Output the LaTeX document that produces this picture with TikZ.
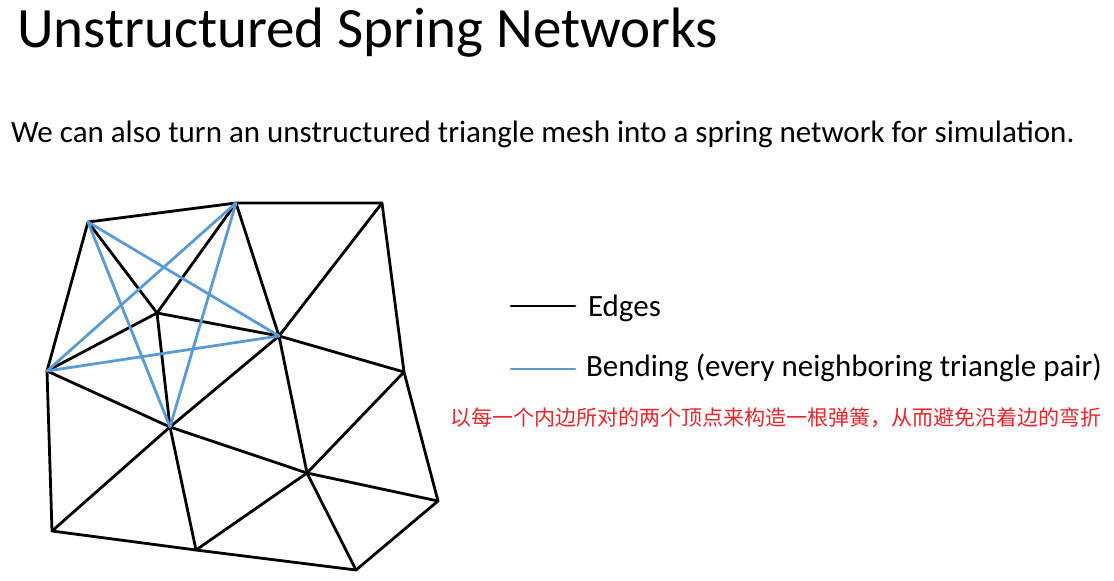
\documentclass[tikz,border=0pt]{standalone}
\usepackage{fontspec}
\setmainfont{Carlito}
\newfontfamily\cjkfont{Noto Sans CJK SC}
\usetikzlibrary{positioning}
\definecolor{bendblue}{RGB}{91,155,213}
\definecolor{noteRed}{RGB}{232,38,45}
\tikzset{
  meshedge/.style={black, line width=2.8pt, line cap=round, line join=round},
  bendedge/.style={bendblue, line width=2.8pt, line cap=round},
  textlabel/.style={anchor=base west, inner sep=0pt, outer sep=0pt}
}

\begin{document}
\begin{tikzpicture}[x=1pt, y=-1pt]
    \useasboundingbox (0,0) rectangle (1114,581);
    % titles
    \node[textlabel, font=\fontsize{57}{64}\selectfont] (title) at (17,47) {Unstructured Spring Networks};
    \node[textlabel, font=\fontsize{31}{36}\selectfont] (intro) at (11,142) {We can also turn an unstructured triangle mesh into a spring network for simulation.};
    % mesh vertices
    \coordinate (tl) at (88,222);
    \coordinate (tm) at (236,203);
    \coordinate (tr) at (382,203);
    \coordinate (cin) at (157,313);
    \coordinate (cr) at (279,336);
    \coordinate (ml) at (47,371);
    \coordinate (mr) at (404,372);
    \coordinate (lo) at (170,427);
    \coordinate (lr) at (307,473);
    \coordinate (rr) at (438,501);
    \coordinate (bl) at (52,531);
    \coordinate (bm) at (196,550);
    \coordinate (br) at (356,570);
    % edges
    \draw[meshedge] (tl) -- (tm) -- (tr) -- (mr) -- (rr) -- (br) -- (bm) -- (bl) -- (ml) -- (tl);
    \draw[meshedge] (tl) -- (cin) -- (tm) -- (cr) -- (tr);
    \draw[meshedge] (ml) -- (cin) -- (cr) -- (mr) -- (lr) -- (cr) -- (lo) -- (cin);
    \draw[meshedge] (ml) -- (lo) -- (lr) -- (rr);
    \draw[meshedge] (bl) -- (lo) -- (bm) -- (lr) -- (br);
    % bending springs
    \draw[bendedge] (tl) -- (lo);
    \draw[bendedge] (tl) -- (cr);
    \draw[bendedge] (tm) -- (ml);
    \draw[bendedge] (tm) -- (lo);
    \draw[bendedge] (ml) -- (cr);
    % legend
    \coordinate (keyA) at (511,306);
    \coordinate (keyB) at (575,306);
    \draw[meshedge] (keyA) -- (keyB);
    \node[textlabel, font=\fontsize{31}{36}\selectfont] (edgeLbl) at (588,316) {Edges};
    \coordinate (keyC) at (511,369);
    \coordinate (keyD) at (575,369);
    \draw[bendedge] (keyC) -- (keyD);
    \node[textlabel, font=\fontsize{31}{36}\selectfont] (bendLbl) at (586,376) {Bending (every neighboring triangle pair)};
    \node[textlabel, font=\cjkfont\fontsize{21}{24}\selectfont, text=noteRed] (note) at (450,425) {以每一个内边所对的两个顶点来构造一根弹簧，从而避免沿着边的弯折};
\end{tikzpicture}
\end{document}
